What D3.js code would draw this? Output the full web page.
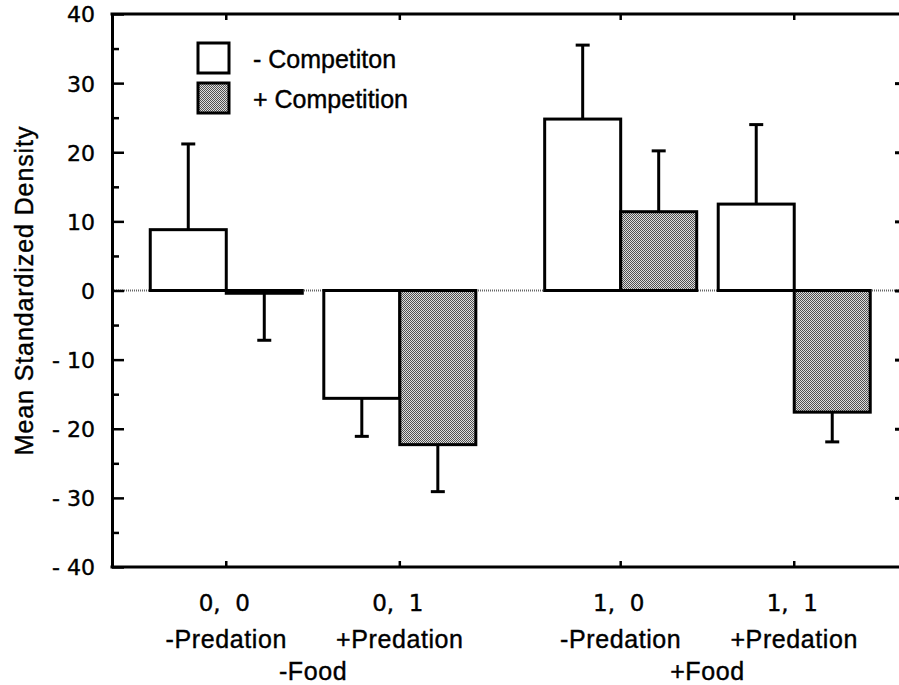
<!DOCTYPE html>
<html>
<head>
<meta charset="utf-8">
<script src="https://cdn.jsdelivr.net/npm/d3@7"></script>
<style>
    body { margin: 0; background: #fff; }
    svg text { font-family: "Liberation Sans", Arial, Helvetica, sans-serif; fill: #000; stroke: #000; stroke-width: 0.4px; }
    svg text.num { font-family: "DejaVu Sans", sans-serif; white-space: pre; }
</style>
</head>
<body>
<div id="chart"></div>
<script>
// chart data
const foodGroups = ["-Food", "+Food"];
const predationLevels = ["-Predation", "+Predation"];
const competitionLevels = ["- Competiton", "+ Competition"];
const categoryCodes = ["0,  0", "0,  1", "1,  0", "1,  1"];

// per category, in order 0,0 / 0,1 / 1,0 / 1,1
const noCompMean = [8.8, -15.6, 24.8, 12.5];
const noCompErr = [12.4, 5.5, 10.7, 11.5];
const compMean = [-0.4, -22.3, 11.4, -17.6];
const compErr = [6.8, 6.8, 8.8, 4.3];

const yTicks = [40, 30, 20, 10, 0, -10, -20, -30, -40];
const yMinorTicks = [35, 25, 15, 5, -5, -15, -25, -35];

const width = 899, height = 685;
const plotLeft = 112, plotRight = 899, plotTop = 14, plotBottom = 567;

let svg = d3.select("#chart")
    .append("svg")
    .attr("width", width)
    .attr("height", height);

let defs = svg.append("defs");
let pat = defs.append("pattern")
    .attr("id", "stipple")
    .attr("width", 2)
    .attr("height", 2)
    .attr("patternUnits", "userSpaceOnUse");
pat.append("rect").attr("width", 2).attr("height", 2).attr("fill", "#dedede");
pat.append("rect").attr("x", 0).attr("y", 0).attr("width", 1).attr("height", 1).attr("fill", "#505050");
pat.append("rect").attr("x", 1).attr("y", 1).attr("width", 1).attr("height", 1).attr("fill", "#505050");

// scales: food group -> predation -> competition
let x0 = d3.scaleBand()
    .domain(foodGroups)
    .range([plotLeft, plotRight - 1])
    .paddingInner(0.12)
    .paddingOuter(0.0564)
    .align(0.618);

let x1 = d3.scaleBand()
    .domain(predationLevels)
    .range([0, x0.bandwidth()])
    .paddingInner(0.124)
    .paddingOuter(0.062);

let x2 = d3.scaleBand()
    .domain(competitionLevels)
    .range([0, x1.bandwidth()]);

let y = d3.scaleLinear()
    .domain([-40, 40])
    .range([plotBottom, plotTop]);

// category i -> food group i>>1, predation i%2
let catLeft = i => x0(foodGroups[Math.floor(i / 2)]) + x1(predationLevels[i % 2]);
let catCenter = i => catLeft(i) + x1.bandwidth() / 2;

// zero reference line
svg.append("line")
    .attr("x1", plotLeft).attr("x2", plotRight)
    .attr("y1", y(0)).attr("y2", y(0))
    .attr("stroke", "#666")
    .attr("stroke-width", 2)
    .attr("stroke-dasharray", "1,1");

// bars
let series = [
    { name: competitionLevels[0], mean: noCompMean, err: noCompErr, fill: "#fff" },
    { name: competitionLevels[1], mean: compMean, err: compErr, fill: "url(#stipple)" }
];

let rows = [];
series.forEach(s => {
    s.mean.forEach((m, i) => {
        rows.push({ cat: i, comp: s.name, mean: m, err: s.err[i], fill: s.fill });
    });
});

let barX = d => catLeft(d.cat) + x2(d.comp);
let barMid = d => barX(d) + x2.bandwidth() / 2;
let errEnd = d => d.mean + (d.mean >= 0 ? d.err : -d.err);

let errG = svg.append("g").attr("class", "errors");
errG.selectAll("line.stem")
    .data(rows)
    .join("line")
    .attr("class", "stem")
    .attr("x1", barMid).attr("x2", barMid)
    .attr("y1", d => y(d.mean))
    .attr("y2", d => y(errEnd(d)))
    .attr("stroke", "#000")
    .attr("stroke-width", 3);
errG.selectAll("line.cap")
    .data(rows)
    .join("line")
    .attr("class", "cap")
    .attr("x1", d => barMid(d) - 7).attr("x2", d => barMid(d) + 7)
    .attr("y1", d => y(errEnd(d)))
    .attr("y2", d => y(errEnd(d)))
    .attr("stroke", "#000")
    .attr("stroke-width", 3);

svg.append("g")
    .attr("class", "bars")
    .selectAll("rect")
    .data(rows)
    .join("rect")
    .attr("x", barX)
    .attr("width", x2.bandwidth())
    .attr("y", d => y(Math.max(0, d.mean)))
    .attr("height", d => Math.abs(y(d.mean) - y(0)))
    .attr("fill", d => d.fill)
    .attr("stroke", "#000")
    .attr("stroke-width", 3);

// left axis
let yAxis = d3.axisLeft(y)
    .tickValues(yTicks)
    .tickSize(-12)
    .tickSizeOuter(0)
    .tickPadding(17)
    .tickFormat(d => d < 0 ? "- " + (-d) : String(d));

let gy = svg.append("g")
    .attr("class", "y axis")
    .attr("transform", "translate(" + plotLeft + ",0)")
    .call(yAxis);
gy.select(".domain").attr("stroke-width", 3);
gy.selectAll(".tick line").attr("stroke-width", 2.5);
gy.selectAll(".tick text")
    .attr("class", "num")
    .attr("font-size", 22)
    .attr("dy", "0.36em");

let gyMinor = svg.append("g")
    .attr("transform", "translate(" + plotLeft + ",0)")
    .call(d3.axisLeft(y).tickValues(yMinorTicks).tickSize(-7).tickFormat(""));
gyMinor.select(".domain").remove();
gyMinor.selectAll(".tick line").attr("stroke-width", 2.5);

// small ticks at right edge
let gyRight = svg.append("g")
    .attr("transform", "translate(" + plotRight + ",0)")
    .call(d3.axisRight(y).tickValues(yTicks.slice(1, -1)).tickSize(-4).tickFormat(""));
gyRight.select(".domain").remove();
gyRight.selectAll(".tick line").attr("stroke-width", 3);

// top and bottom frame lines
svg.append("line")
    .attr("x1", plotLeft - 1.5).attr("x2", plotRight)
    .attr("y1", plotTop).attr("y2", plotTop)
    .attr("stroke", "#000").attr("stroke-width", 3);
svg.append("line")
    .attr("x1", plotLeft - 1.5).attr("x2", plotRight)
    .attr("y1", plotBottom).attr("y2", plotBottom)
    .attr("stroke", "#000").attr("stroke-width", 3);

// category ticks at top and bottom
let idx = d3.range(categoryCodes.length);
svg.append("g").selectAll("line")
    .data(idx)
    .join("line")
    .attr("x1", catCenter).attr("x2", catCenter)
    .attr("y1", plotTop).attr("y2", plotTop + 6)
    .attr("stroke", "#000").attr("stroke-width", 2.5);
svg.append("g").selectAll("line")
    .data(idx)
    .join("line")
    .attr("x1", catCenter).attr("x2", catCenter)
    .attr("y1", plotBottom).attr("y2", plotBottom - 6)
    .attr("stroke", "#000").attr("stroke-width", 2.5);

// x labels
svg.append("g").selectAll("text")
    .data(idx)
    .join("text")
    .attr("class", "num")
    .attr("x", d => catCenter(d) - 2)
    .attr("y", 611)
    .attr("text-anchor", "middle")
    .attr("font-size", 23)
    .text(d => categoryCodes[d]);

svg.append("g").selectAll("text")
    .data(idx)
    .join("text")
    .attr("x", catCenter)
    .attr("y", 648)
    .attr("text-anchor", "middle")
    .attr("font-size", 25)
    .attr("letter-spacing", 0.6)
    .text(d => predationLevels[d % 2]);

svg.append("g").selectAll("text")
    .data(foodGroups)
    .join("text")
    .attr("x", d => x0(d) + x0.bandwidth() / 2)
    .attr("y", 680)
    .attr("text-anchor", "middle")
    .attr("font-size", 25)
    .attr("letter-spacing", 0.6)
    .text(d => d);

// y axis title
svg.append("text")
    .attr("transform", "translate(33," + y(0) + ") rotate(-90)")
    .attr("text-anchor", "middle")
    .attr("font-size", 25)
    .attr("letter-spacing", 0.9)
    .text("Mean Standardized Density");

// legend
let legend = svg.append("g").attr("class", "legend");
legend.selectAll("rect")
    .data(series)
    .join("rect")
    .attr("x", 198)
    .attr("y", (d, i) => 43 + i * 40)
    .attr("width", 31)
    .attr("height", 30)
    .attr("fill", d => d.fill)
    .attr("stroke", "#000")
    .attr("stroke-width", 3);
legend.selectAll("text")
    .data(series)
    .join("text")
    .attr("x", 253)
    .attr("y", (d, i) => 68 + i * 40)
    .attr("font-size", 25)
    .text(d => d.name);
</script>
</body>
</html>
